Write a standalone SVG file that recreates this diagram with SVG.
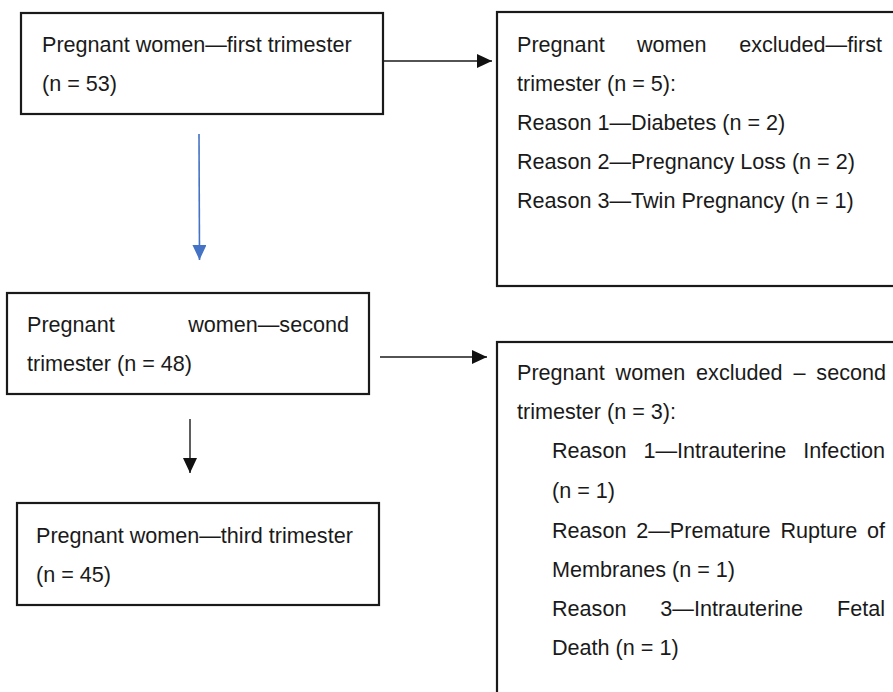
<svg xmlns="http://www.w3.org/2000/svg" width="893" height="692" viewBox="0 0 893 692">
<defs>
<style>
.box{fill:#fff;stroke:#1a1a1a;stroke-width:2.2}
.t{font-family:"Liberation Sans",Arial,sans-serif;font-size:21.6px;fill:#1a1a1a}
.e{text-anchor:end}
.c{stroke:#1a1a1a;stroke-width:1.4;fill:none}
.cb{stroke:#4472C4;stroke-width:1.6;fill:none}
</style>
<marker id="ah" markerUnits="userSpaceOnUse" markerWidth="16" markerHeight="14" refX="15" refY="7" orient="auto">
<path d="M0,0 L15,7 L0,14 Z" fill="#111"/>
</marker>
<marker id="ahb" markerUnits="userSpaceOnUse" markerWidth="16" markerHeight="14" refX="15" refY="7" orient="auto">
<path d="M0,0 L15,7 L0,14 Z" fill="#4472C4"/>
</marker>
</defs>
<rect width="893" height="692" fill="#fff"/>

<g id="connectors">
<line class="c" x1="384" y1="61" x2="492" y2="61" marker-end="url(#ah)"/>
<line class="cb" x1="199" y1="134" x2="199.5" y2="260" marker-end="url(#ahb)"/>
<line class="c" x1="380" y1="357" x2="487" y2="357" marker-end="url(#ah)"/>
<line class="c" x1="190" y1="419" x2="190" y2="473" marker-end="url(#ah)"/>
</g>

<g id="first">
<rect class="box" x="21" y="13" width="362" height="101"/>
<text class="t" x="42" y="52">Pregnant women—first trimester</text>
<text class="t" x="42" y="91">(n = 53)</text>
</g>

<g id="excluded-first">
<rect class="box" x="497" y="12" width="420" height="274"/>
<text class="t" y="52"><tspan x="517">Pregnant</tspan><tspan x="637">women</tspan></text>
<text class="t e" x="882" y="52">excluded—first</text>
<text class="t" x="517" y="91">trimester (n = 5):</text>
<text class="t" x="517" y="130">Reason 1—Diabetes (n = 2)</text>
<text class="t" x="517" y="169">Reason 2—Pregnancy Loss (n = 2)</text>
<text class="t" x="517" y="208">Reason 3—Twin Pregnancy (n = 1)</text>
</g>

<g id="second">
<rect class="box" x="7" y="293" width="362" height="101"/>
<text class="t" x="27" y="332">Pregnant</text>
<text class="t e" x="349" y="332">women—second</text>
<text class="t" x="27" y="371">trimester (n = 48)</text>
</g>

<g id="third">
<rect class="box" x="17" y="503" width="362" height="102"/>
<text class="t" x="36" y="543">Pregnant women—third trimester</text>
<text class="t" x="36" y="582">(n = 45)</text>
</g>

<g id="excluded-second">
<rect class="box" x="497" y="342" width="420" height="380"/>
<text class="t" y="380"><tspan x="517">Pregnant</tspan><tspan x="615.6">women</tspan><tspan x="696.1">excluded</tspan><tspan x="793.4">–</tspan></text>
<text class="t e" x="886" y="380">second</text>
<text class="t" x="517" y="419">trimester (n = 3):</text>
<text class="t" y="458"><tspan x="552">Reason</tspan><tspan x="643.4">1—Intrauterine</tspan></text>
<text class="t e" x="885" y="458">Infection</text>
<text class="t" x="552" y="498">(n = 1)</text>
<text class="t" y="538"><tspan x="552">Reason</tspan><tspan x="636.2">2—Premature</tspan><tspan x="780.4">Rupture</tspan></text>
<text class="t e" x="885" y="538">of</text>
<text class="t" x="552" y="577">Membranes (n = 1)</text>
<text class="t" y="616"><tspan x="552">Reason</tspan><tspan x="660.3">3—Intrauterine</tspan></text>
<text class="t e" x="885" y="616">Fetal</text>
<text class="t" x="552" y="655">Death (n = 1)</text>
</g>
</svg>
